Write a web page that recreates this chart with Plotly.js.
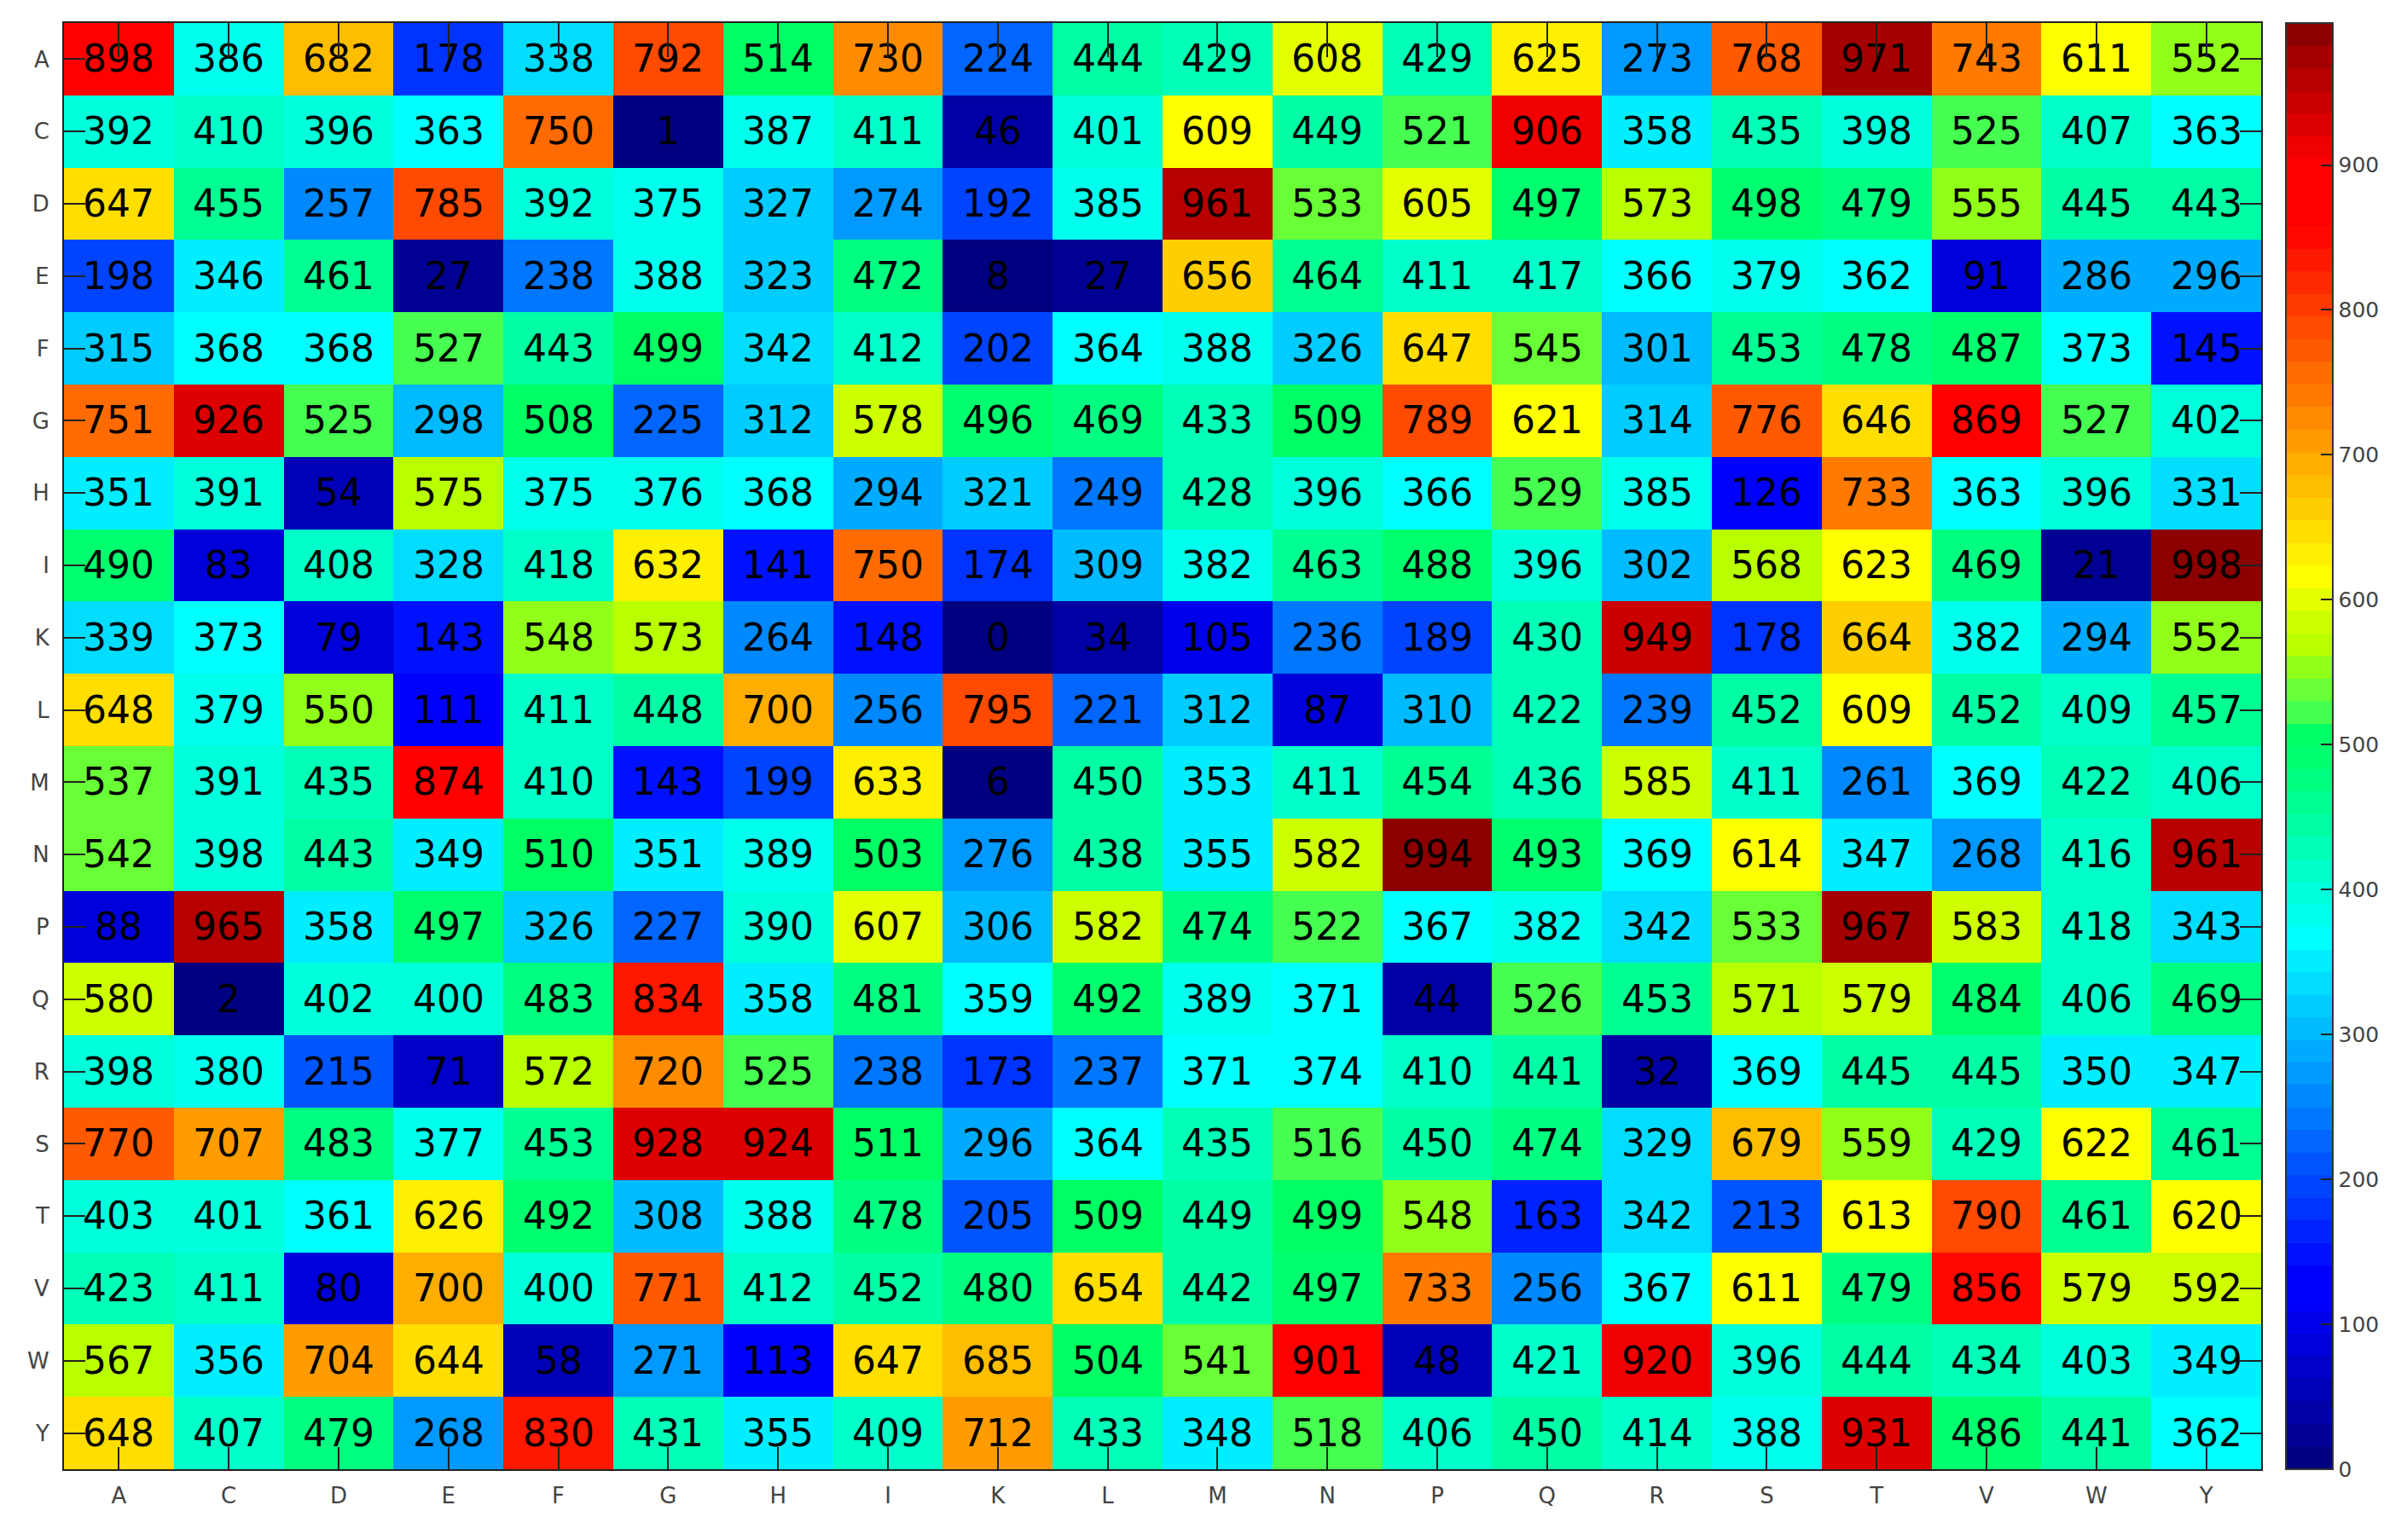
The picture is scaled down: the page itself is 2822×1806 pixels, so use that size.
<!DOCTYPE html>
<html>
<head>
<meta charset="utf-8">
<script src="https://cdn.plot.ly/plotly-3.0.1.min.js"></script>
<style>html,body{margin:0;padding:0;background:#fff;}#chart{width:2822px;height:1806px;}</style>
</head>
<body>
<div id="chart"></div>
<script>
// Categories (rows top to bottom, columns left to right)
const rowLabels = ['A','C','D','E','F','G','H','I','K','L','M','N','P','Q','R','S','T','V','W','Y'];
const colLabels = ['A','C','D','E','F','G','H','I','K','L','M','N','P','Q','R','S','T','V','W','Y'];

// Cell values, one array per row
const rowA = [898,386,682,178,338,792,514,730,224,444,429,608,429,625,273,768,971,743,611,552];
const rowC = [392,410,396,363,750,1,387,411,46,401,609,449,521,906,358,435,398,525,407,363];
const rowD = [647,455,257,785,392,375,327,274,192,385,961,533,605,497,573,498,479,555,445,443];
const rowE = [198,346,461,27,238,388,323,472,8,27,656,464,411,417,366,379,362,91,286,296];
const rowF = [315,368,368,527,443,499,342,412,202,364,388,326,647,545,301,453,478,487,373,145];
const rowG = [751,926,525,298,508,225,312,578,496,469,433,509,789,621,314,776,646,869,527,402];
const rowH = [351,391,54,575,375,376,368,294,321,249,428,396,366,529,385,126,733,363,396,331];
const rowI = [490,83,408,328,418,632,141,750,174,309,382,463,488,396,302,568,623,469,21,998];
const rowK = [339,373,79,143,548,573,264,148,0,34,105,236,189,430,949,178,664,382,294,552];
const rowL = [648,379,550,111,411,448,700,256,795,221,312,87,310,422,239,452,609,452,409,457];
const rowM = [537,391,435,874,410,143,199,633,6,450,353,411,454,436,585,411,261,369,422,406];
const rowN = [542,398,443,349,510,351,389,503,276,438,355,582,994,493,369,614,347,268,416,961];
const rowP = [88,965,358,497,326,227,390,607,306,582,474,522,367,382,342,533,967,583,418,343];
const rowQ = [580,2,402,400,483,834,358,481,359,492,389,371,44,526,453,571,579,484,406,469];
const rowR = [398,380,215,71,572,720,525,238,173,237,371,374,410,441,32,369,445,445,350,347];
const rowS = [770,707,483,377,453,928,924,511,296,364,435,516,450,474,329,679,559,429,622,461];
const rowT = [403,401,361,626,492,308,388,478,205,509,449,499,548,163,342,213,613,790,461,620];
const rowV = [423,411,80,700,400,771,412,452,480,654,442,497,733,256,367,611,479,856,579,592];
const rowW = [567,356,704,644,58,271,113,647,685,504,541,901,48,421,920,396,444,434,403,349];
const rowY = [648,407,479,268,830,431,355,409,712,433,348,518,406,450,414,388,931,486,441,362];

const zValues = [rowA,rowC,rowD,rowE,rowF,rowG,rowH,rowI,rowK,rowL,rowM,rowN,rowP,rowQ,rowR,rowS,rowT,rowV,rowW,rowY];

// Colormap (style): 64 discrete jet-like bands, bottom to top
const bandColors = [
  [0,0,128],[0,0,146],[0,0,164],[0,0,182],[0,0,200],[0,0,218],[0,0,236],[0,0,255],
  [0,0,255],[0,17,255],[0,34,255],[0,51,255],[0,68,255],[0,85,255],[0,102,255],[0,119,255],
  [0,136,255],[0,153,255],[0,170,255],[0,187,255],[0,204,255],[0,221,255],[0,238,255],[0,255,255],
  [0,255,237],[0,255,219],[0,255,201],[0,255,183],[0,255,165],[0,255,147],[0,255,129],[0,255,111],
  [0,255,100],[70,255,80],[105,255,55],[145,255,25],[185,255,0],[205,255,0],[228,255,0],[255,255,0],
  [255,239,0],[255,222,0],[255,206,0],[255,189,0],[255,173,0],[255,156,0],[255,140,0],[255,123,0],
  [255,107,0],[255,90,0],[255,74,0],[255,57,0],[255,41,0],[255,24,0],[255,8,0],[255,0,0],
  [255,0,0],[255,0,0],[240,0,0],[221,0,0],[202,0,0],[183,0,0],[164,0,0],[140,0,0]
];
const colorscale = [];
bandColors.forEach((c, k) => {
  const s = 'rgb(' + c.join(',') + ')';
  colorscale.push([k / bandColors.length, s]);
  colorscale.push([(k + 1) / bandColors.length, s]);
});

const FONT = 'DejaVu Sans, Verdana, sans-serif';

const heat = {
  type: 'heatmap',
  x: colLabels,
  y: rowLabels,
  z: zValues,
  colorscale: colorscale,
  texttemplate: '%{z}',
  textfont: {family: FONT, size: 44, color: '#000'},
  hoverinfo: 'skip',
  colorbar: {
    x: 1.0113, xanchor: 'left', xref: 'paper',
    y: 0.5, yanchor: 'middle',
    len: 1, lenmode: 'fraction',
    thickness: 55, thicknessmode: 'pixels',
    xpad: 0, ypad: 0,
    outlinewidth: 2, outlinecolor: '#333',
    tick0: 0, dtick: 100,
    ticks: 'inside', ticklen: 15, tickwidth: 2, tickcolor: '#222',
    tickfont: {family: FONT, size: 25, color: '#444'}
  }
};

// invisible helper trace to draw the longer top tick marks
const topTicks = {
  type: 'scatter', mode: 'markers',
  x: colLabels, y: colLabels.map(() => rowLabels[0]),
  xaxis: 'x2', yaxis: 'y',
  marker: {opacity: 0}, hoverinfo: 'skip', showlegend: false
};

const layout = {
  width: 2822, height: 1806,
  margin: {l: 75, r: 171, t: 27, b: 83, pad: 0},
  paper_bgcolor: '#fff', plot_bgcolor: '#fff',
  font: {family: FONT, color: '#444'},
  showlegend: false,
  xaxis: {
    type: 'category', categoryorder: 'array', categoryarray: colLabels,
    range: [-0.5, 19.5],
    showline: true, linecolor: '#222', linewidth: 2, mirror: true,
    ticks: 'inside', ticklen: 26, tickwidth: 2, tickcolor: '#222',
    tickfont: {family: FONT, size: 26, color: '#444'},
    ticklabelstandoff: 7,
    showgrid: false, zeroline: false, fixedrange: true
  },
  xaxis2: {
    type: 'category', categoryorder: 'array', categoryarray: colLabels,
    range: [-0.5, 19.5],
    overlaying: 'x', side: 'top',
    ticks: 'inside', ticklen: 40, tickwidth: 2, tickcolor: '#222',
    showticklabels: false, showline: false,
    showgrid: false, zeroline: false, fixedrange: true
  },
  yaxis: {
    type: 'category', categoryorder: 'array', categoryarray: rowLabels,
    range: [19.5, -0.5],
    showline: true, linecolor: '#222', linewidth: 2, mirror: 'ticks',
    ticks: 'inside', ticklen: 25, tickwidth: 2, tickcolor: '#222',
    tickfont: {family: FONT, size: 26, color: '#444'},
    ticklabelstandoff: 10,
    showgrid: false, zeroline: false, fixedrange: true
  }
};

Plotly.newPlot('chart', [heat, topTicks], layout, {displayModeBar: false, staticPlot: true});
</script>
</body>
</html>
